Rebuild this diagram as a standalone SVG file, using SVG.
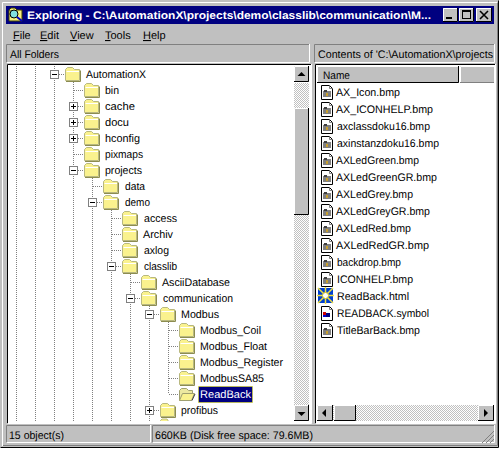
<svg xmlns="http://www.w3.org/2000/svg" xmlns:xlink="http://www.w3.org/1999/xlink" width="501" height="449" viewBox="0 0 501 449">
<style>
text{font-family:"Liberation Sans",Arial,sans-serif;font-size:11px;fill:#000;text-rendering:geometricPrecision}
.title{font-weight:bold;fill:#fff}
.sel{fill:#fff}
.u{text-decoration:underline}
.tree{fill:none;stroke:#808080;stroke-width:1;stroke-dasharray:1 1}
.exp{fill:#fff;stroke:#808080;stroke-width:1}
.sign{fill:none;stroke:#000;stroke-width:1}
.face{fill:#c0c0c0}
.hi{fill:none;stroke:#fff;stroke-width:1}
.sh{fill:none;stroke:#808080;stroke-width:1}
.bk{fill:none;stroke:#000;stroke-width:1}
</style>
<defs>
<pattern id="dither" width="2" height="2" patternUnits="userSpaceOnUse"><rect width="2" height="2" fill="#fff"/><rect width="1" height="1" fill="#c0c0c0"/><rect x="1" y="1" width="1" height="1" fill="#c0c0c0"/></pattern>
<g id="folder"><path d="M0.500 13.500V2.500L2.500 .5H7.500L9.500 2.500H14.500V13.500Z" fill="#faf28e" stroke="#b8b880"/><path d="M1.500 4.500H14" stroke="#fff" fill="none"/><path d="M15.500 3.500V14.500H1" stroke="#8c8c50" fill="none"/></g>
<g id="openfolder"><path d="M0.500 13.500V3.500L2.500 1.500H7.500L9.500 3.500H13.500V6.500" fill="#ece8a0" stroke="#a0a070"/><path d="M.5 13.500L3.500 6.500H15.500L12.500 13.500Z" fill="#faf28e" stroke="#a0a070"/><path d="M13 13.500L16 7" stroke="#404040" fill="none"/></g>
<g id="page"><path d="M.5 .5H8.500L11.500 3.500V14.500H.5Z" fill="#fff" stroke="#000"/><path d="M8.500 .5V3.500H11.500" fill="none" stroke="#808080"/></g>
<g id="bmp"><use xlink:href="#page"/><rect x="2" y="6" width="8" height="6" fill="#808080"/><rect x="3" y="5" width="3" height="2" fill="#404040"/><rect x="5" y="8" width="2" height="3" fill="#c8a030"/></g>
<g id="plus"><path class="sign" d="M71 0.500H76M73.500-2V3"/></g>
</defs>
<rect width="501" height="449" fill="#fff"/>
<g id="window">
<rect x="0" y="0" width="499" height="447" class="face"/>
<path class="hi" d="M2.500 446V2.500H497"/>
<path class="bk" d="M.5 447.500H498.500V.5"/>
<path class="sh" d="M3 445.500H497.500V3"/>
<rect x="6" y="6" width="488" height="18" fill="#000080"/>
<text class="title" x="27" y="19" textLength="404" lengthAdjust="spacingAndGlyphs">Exploring - C:\AutomationX\projects\demo\classlib\communication\M...</text>
</g>
<g id="app-icon">
<path d="M9 10H22V21H9Z" fill="#f8f080" stroke="#404000"/>
<path d="M9 10L11 8H15L17 10" fill="#f8f080" stroke="#404000"/>
<circle cx="14" cy="14" r="4" fill="#80e0e0" stroke="#000"/>
<path d="M17 17L22 21" stroke="#0000c0" stroke-width="2"/>
</g>
<g id="window-buttons">
<g id="btn-min"><rect x="443" y="8" width="15" height="14" class="face"/><path class="hi" d="M443.500 22V8.500H458"/><path class="bk" d="M443 21.500H457.500V8"/><rect x="446" y="17" width="6" height="2"/></g>
<g id="btn-max"><rect x="459" y="8" width="15" height="14" class="face"/><path class="hi" d="M459.500 22V8.500H474"/><path class="bk" d="M459 21.500H473.500V8"/><rect x="462.500" y="10.500" width="8" height="8" fill="none" stroke="#000"/><path d="M462 11.500H471" stroke="#000"/></g>
<g id="btn-close"><rect x="476" y="8" width="16" height="14" class="face"/><path class="hi" d="M476.500 22V8.500H492"/><path class="bk" d="M476 21.500H491.500V8"/><path d="M480 11L488 19M488 11L480 19" stroke="#000" stroke-width="1.600"/></g>
</g>
<g id="menu">
<text x="13" y="39"><tspan class="u">F</tspan>ile</text>
<text x="40" y="39"><tspan class="u">E</tspan>dit</text>
<text x="70" y="39"><tspan class="u">V</tspan>iew</text>
<text x="105" y="39"><tspan class="u">T</tspan>ools</text>
<text x="143" y="39"><tspan class="u">H</tspan>elp</text>
</g>
<g id="pane-headers">
<path class="sh" d="M6.500 62V44.500H309"/><path class="hi" d="M7 62.500H309.500V44"/>
<text x="10" y="58" textLength="49" lengthAdjust="spacingAndGlyphs">All Folders</text>
<path class="sh" d="M314.500 62V44.500H494"/><path class="hi" d="M315 62.500H494.500V44"/>
<text x="318" y="58" textLength="175" lengthAdjust="spacingAndGlyphs">Contents of 'C:\AutomationX\projects</text>
</g>
<g id="panes">
<rect x="7" y="64" width="304" height="359" fill="#fff"/>
<path class="bk" d="M7.500 423V64.500H311"/><path class="hi" d="M8 423.500H311.500V64"/>
<rect x="315" y="64" width="180" height="359" fill="#fff"/>
<path class="bk" d="M315.500 423V64.500H495"/><path class="hi" d="M316 423.500H495.500V64"/>
</g>
<g id="connectors">
<path class="tree" d="M16.500 66V421M35.500 66V421M54.500 66V69M54.500 78V421M73.500 80V421M92.500 176V421M111.500 208V421M130.500 272V421M149.500 304V421M168.500 320V394"/>
<path class="tree" d="M59 74.500H65M74 90.500H84M78 106.500H84M78 122.500H84M78 138.500H84M74 154.500H84M78 170.500H84M93 186.500H103M97 202.500H103M112 218.500H122M112 234.500H122M112 250.500H122M116 266.500H122M131 282.500H141M135 298.500H141M154 314.500H160M169 330.500H179M169 346.500H179M169 362.500H179M169 378.500H179M169 394.500H179M154 410.500H160"/>
</g>
<g id="tree-nodes">
<g id="n-automationx"><rect class="exp" x="50.500" y="70.500" width="8" height="8"/><path class="sign" d="M52 74.500H57"/><use xlink:href="#folder" x="65" y="67"/><text x="86" y="78" textLength="60" lengthAdjust="spacingAndGlyphs">AutomationX</text></g>
<g id="n-bin"><use xlink:href="#folder" x="84" y="83"/><text x="105" y="94" textLength="14" lengthAdjust="spacingAndGlyphs">bin</text></g>
<g id="n-cache"><rect class="exp" x="69.500" y="102.500" width="8" height="8"/><use xlink:href="#plus" y="106"/><use xlink:href="#folder" x="84" y="99"/><text x="105" y="110" textLength="30" lengthAdjust="spacingAndGlyphs">cache</text></g>
<g id="n-docu"><rect class="exp" x="69.500" y="118.500" width="8" height="8"/><use xlink:href="#plus" y="122"/><use xlink:href="#folder" x="84" y="115"/><text x="105" y="126" textLength="24" lengthAdjust="spacingAndGlyphs">docu</text></g>
<g id="n-hconfig"><rect class="exp" x="69.500" y="134.500" width="8" height="8"/><use xlink:href="#plus" y="138"/><use xlink:href="#folder" x="84" y="131"/><text x="105" y="142" textLength="35" lengthAdjust="spacingAndGlyphs">hconfig</text></g>
<g id="n-pixmaps"><use xlink:href="#folder" x="84" y="147"/><text x="105" y="158" textLength="38" lengthAdjust="spacingAndGlyphs">pixmaps</text></g>
<g id="n-projects"><rect class="exp" x="69.500" y="166.500" width="8" height="8"/><path class="sign" d="M71 170.500H76"/><use xlink:href="#folder" x="84" y="163"/><text x="105" y="174" textLength="37" lengthAdjust="spacingAndGlyphs">projects</text></g>
<g id="n-data"><use xlink:href="#folder" x="103" y="179"/><text x="125" y="190" textLength="20" lengthAdjust="spacingAndGlyphs">data</text></g>
<g id="n-demo"><rect class="exp" x="88.500" y="198.500" width="8" height="8"/><path class="sign" d="M90 202.500H95"/><use xlink:href="#folder" x="103" y="195"/><text x="125" y="206" textLength="25" lengthAdjust="spacingAndGlyphs">demo</text></g>
<g id="n-access"><use xlink:href="#folder" x="122" y="211"/><text x="144" y="222" textLength="33" lengthAdjust="spacingAndGlyphs">access</text></g>
<g id="n-archiv"><use xlink:href="#folder" x="122" y="227"/><text x="143" y="238" textLength="30" lengthAdjust="spacingAndGlyphs">Archiv</text></g>
<g id="n-axlog"><use xlink:href="#folder" x="122" y="243"/><text x="144" y="254" textLength="25" lengthAdjust="spacingAndGlyphs">axlog</text></g>
<g id="n-classlib"><rect class="exp" x="107.500" y="262.500" width="8" height="8"/><path class="sign" d="M109 266.500H114"/><use xlink:href="#folder" x="122" y="259"/><text x="144" y="270" textLength="33" lengthAdjust="spacingAndGlyphs">classlib</text></g>
<g id="n-asciidatabase"><use xlink:href="#folder" x="141" y="275"/><text x="162" y="286" textLength="68" lengthAdjust="spacingAndGlyphs">AsciiDatabase</text></g>
<g id="n-communication"><rect class="exp" x="126.500" y="294.500" width="8" height="8"/><path class="sign" d="M128 298.500H133"/><use xlink:href="#folder" x="141" y="291"/><text x="163" y="302" textLength="70" lengthAdjust="spacingAndGlyphs">communication</text></g>
<g id="n-modbus"><rect class="exp" x="145.500" y="310.500" width="8" height="8"/><path class="sign" d="M147 314.500H152"/><use xlink:href="#folder" x="160" y="307"/><text x="181" y="318" textLength="38" lengthAdjust="spacingAndGlyphs">Modbus</text></g>
<g id="n-modbus-coil"><use xlink:href="#folder" x="179" y="323"/><text x="200" y="334" textLength="61" lengthAdjust="spacingAndGlyphs">Modbus_Coil</text></g>
<g id="n-modbus-float"><use xlink:href="#folder" x="179" y="339"/><text x="200" y="350" textLength="67" lengthAdjust="spacingAndGlyphs">Modbus_Float</text></g>
<g id="n-modbus-register"><use xlink:href="#folder" x="179" y="355"/><text x="200" y="366" textLength="83" lengthAdjust="spacingAndGlyphs">Modbus_Register</text></g>
<g id="n-modbussa85"><use xlink:href="#folder" x="179" y="371"/><text x="200" y="382" textLength="64" lengthAdjust="spacingAndGlyphs">ModbusSA85</text></g>
<g id="n-readback"><use xlink:href="#openfolder" x="179" y="387"/><rect x="198.500" y="386.500" width="54" height="16" fill="#000080" stroke="#f0f000" stroke-dasharray="1 1"/><text class="sel" x="200" y="398" textLength="51" lengthAdjust="spacingAndGlyphs">ReadBack</text></g>
<g id="n-profibus"><rect class="exp" x="145.500" y="406.500" width="8" height="8"/><use xlink:href="#plus" x="76" y="410"/><use xlink:href="#folder" x="160" y="403"/><text x="181" y="414" textLength="37" lengthAdjust="spacingAndGlyphs">profibus</text></g>
<path id="n-next-clipped" d="M160.500 421V420.500L162 419H167L168 420.500V421" fill="#faf28e" stroke="#b8b880"/>
</g>
<g id="tree-scrollbar">
<rect x="294" y="83" width="15" height="322" fill="url(#dither)"/>
<g id="sb-up"><rect x="294" y="66" width="15" height="16" class="face"/><path class="hi" d="M294.500 82V66.500H309"/><path class="bk" d="M294 81.500H308.500V66"/><path d="M301.500 72L297.500 76H305.500Z"/></g>
<g id="sb-thumb"><rect x="294" y="108" width="15" height="107" class="face"/><path class="hi" d="M294.500 215V108.500H309"/><path class="bk" d="M294 214.500H308.500V108"/></g>
<g id="sb-down"><rect x="294" y="405" width="15" height="16" class="face"/><path class="hi" d="M294.500 421V405.500H309"/><path class="bk" d="M294 420.500H308.500V405"/><path d="M301.500 416L297.500 412H305.500Z"/></g>
</g>
<g id="list-header">
<rect x="317" y="66" width="142" height="17" class="face"/><path class="hi" d="M317.500 83V66.500H459"/><path class="bk" d="M317 82.500H458.500V66"/>
<text x="323" y="79" textLength="27" lengthAdjust="spacingAndGlyphs">Name</text>
<rect x="460" y="66" width="34" height="17" class="face"/><path class="hi" d="M460.500 83V66.500H494"/><path class="sh" d="M460 82.500H494"/>
</g>
<g id="files">
<g id="f1"><use xlink:href="#bmp" x="321" y="85"/><text x="336" y="96" textLength="64" lengthAdjust="spacingAndGlyphs">AX_Icon.bmp</text></g>
<g id="f2"><use xlink:href="#bmp" x="321" y="102"/><text x="336" y="113" textLength="97" lengthAdjust="spacingAndGlyphs">AX_ICONHELP.bmp</text></g>
<g id="f3"><use xlink:href="#bmp" x="321" y="119"/><text x="337" y="130" textLength="93" lengthAdjust="spacingAndGlyphs">axclassdoku16.bmp</text></g>
<g id="f4"><use xlink:href="#bmp" x="321" y="136"/><text x="337" y="147" textLength="102" lengthAdjust="spacingAndGlyphs">axinstanzdoku16.bmp</text></g>
<g id="f5"><use xlink:href="#bmp" x="321" y="153"/><text x="336" y="164" textLength="83" lengthAdjust="spacingAndGlyphs">AXLedGreen.bmp</text></g>
<g id="f6"><use xlink:href="#bmp" x="321" y="170"/><text x="336" y="181" textLength="101" lengthAdjust="spacingAndGlyphs">AXLedGreenGR.bmp</text></g>
<g id="f7"><use xlink:href="#bmp" x="321" y="187"/><text x="336" y="198" textLength="77" lengthAdjust="spacingAndGlyphs">AXLedGrey.bmp</text></g>
<g id="f8"><use xlink:href="#bmp" x="321" y="204"/><text x="336" y="215" textLength="94" lengthAdjust="spacingAndGlyphs">AXLedGreyGR.bmp</text></g>
<g id="f9"><use xlink:href="#bmp" x="321" y="221"/><text x="336" y="232" textLength="75" lengthAdjust="spacingAndGlyphs">AXLedRed.bmp</text></g>
<g id="f10"><use xlink:href="#bmp" x="321" y="238"/><text x="336" y="249" textLength="93" lengthAdjust="spacingAndGlyphs">AXLedRedGR.bmp</text></g>
<g id="f11"><use xlink:href="#bmp" x="321" y="255"/><text x="337" y="266" textLength="64" lengthAdjust="spacingAndGlyphs">backdrop.bmp</text></g>
<g id="f12"><use xlink:href="#bmp" x="321" y="272"/><text x="337" y="283" textLength="76" lengthAdjust="spacingAndGlyphs">ICONHELP.bmp</text></g>
<g id="f13"><rect x="318" y="288" width="15" height="15" fill="#0040d0"/><path d="M318 288L333 303M333 288L318 303M325.500 287V304M317 295.500H334" stroke="#f0e040" stroke-width="1.500"/><circle cx="325.500" cy="295.500" r="3" fill="#fff" stroke="#d0c020"/><text x="337" y="300" textLength="72" lengthAdjust="spacingAndGlyphs">ReadBack.html</text></g>
<g id="f14"><use xlink:href="#page" x="321" y="306"/><rect x="323" y="312" width="3" height="3" fill="#d00000"/><rect x="326" y="313" width="4" height="4" fill="#000080"/><rect x="323" y="315" width="3" height="2" fill="#0000d0"/><text x="337" y="317" textLength="92" lengthAdjust="spacingAndGlyphs">READBACK.symbol</text></g>
<g id="f15"><use xlink:href="#bmp" x="321" y="323"/><text x="337" y="334" textLength="83" lengthAdjust="spacingAndGlyphs">TitleBarBack.bmp</text></g>
</g>
<g id="list-scrollbar">
<rect x="333" y="405" width="145" height="16" fill="url(#dither)"/>
<g id="hs-left"><rect x="317" y="405" width="16" height="16" class="face"/><path class="hi" d="M317.500 421V405.500H333"/><path class="bk" d="M317 420.500H332.500V405"/><path d="M322 413L326 409V417Z"/></g>
<g id="hs-thumb"><rect x="334" y="405" width="22" height="16" class="face"/><path class="hi" d="M334.500 421V405.500H356"/><path class="bk" d="M334 420.500H355.500V405"/></g>
<g id="hs-right"><rect x="478" y="405" width="16" height="16" class="face"/><path class="hi" d="M478.500 421V405.500H494"/><path class="bk" d="M478 420.500H493.500V405"/><path d="M488 413L484 409V417Z"/></g>
</g>
<g id="status-bar">
<path class="sh" d="M6.500 442V425.500H150"/><path class="hi" d="M7 442.500H150.500V425"/>
<text x="9" y="439" textLength="55" lengthAdjust="spacingAndGlyphs">15 object(s)</text>
<path class="sh" d="M152.500 442V425.500H494"/><path class="hi" d="M153 442.500H494.500V425"/>
<text x="155" y="439" textLength="158" lengthAdjust="spacingAndGlyphs">660KB (Disk free space: 79.6MB)</text>
<path d="M482 443L494 431M486 443L494 435M490 443L494 439" stroke="#808080" stroke-width="1"/>
</g>
</svg>
